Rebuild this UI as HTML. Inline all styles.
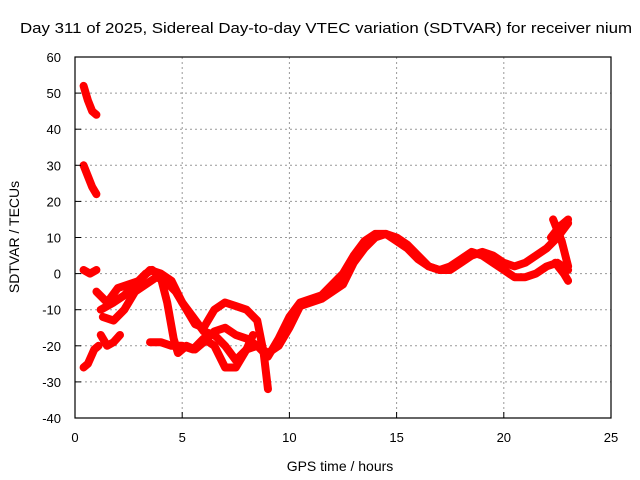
<!DOCTYPE html>
<html><head><meta charset="utf-8"><style>
body{margin:0;background:#fff}
svg{display:block;font-family:"Liberation Sans",sans-serif;font-size:13px}
</style></head><body>
<svg id="chart" width="640" height="480">
<text x="20" y="33" font-size="15" textLength="612" lengthAdjust="spacingAndGlyphs">Day 311 of 2025, Sidereal Day-to-day VTEC variation (SDTVAR) for receiver nium</text>
<text x="340" y="471" text-anchor="middle" font-size="14">GPS time / hours</text>
<text transform="translate(19,237) rotate(-90)" text-anchor="middle" font-size="14">SDTVAR / TECUs</text>
<g id="grid"></g>
<g id="marks"></g>
<rect x="75" y="57" width="536" height="361" fill="none" stroke="#000" stroke-width="1.2"/>
<g id="ticks"></g>
</svg>
<script>
const xTicks=[0,5,10,15,20,25];
const yTicks=[-40,-30,-20,-10,0,10,20,30,40,50,60];
const tA=[[0.4,52],[0.6,48],[0.8,45],[1.0,44]];
const tB=[[0.4,30],[0.6,27],[0.8,24],[1.0,22]];
const tC=[[0.4,1],[0.7,0],[1.0,1]];
const tD=[[0.4,-26],[0.6,-25],[0.9,-21],[1.1,-20]];
const tE=[[1.2,-17],[1.5,-20],[1.8,-19],[2.1,-17]];
const tF=[[1.0,-5],[1.5,-8],[2.0,-4],[2.5,-3],[3.0,-2],[3.5,1],[4.0,0],[4.5,-2],[5.0,-8],[5.5,-12],[6.0,-16],[6.5,-17],[7.0,-20],[7.5,-24],[8.0,-21],[8.5,-20],[9.0,-22],[9.5,-20],[10,-15],[10.5,-9],[11,-8],[11.5,-7],[12,-5],[12.5,-3],[13,3],[13.5,7],[14,10],[14.5,11],[15,9],[15.5,7],[16,4],[16.5,2],[17,1],[17.5,2],[18,4],[18.5,6],[19,5],[19.5,3],[20,1],[20.5,-1],[21,-1],[21.5,0],[22,2],[22.5,3],[23,1]];
const tG=[[1.2,-10],[1.8,-8],[2.3,-6],[2.8,-3],[3.3,0],[3.6,1],[4.0,-1],[4.3,-8],[4.6,-18],[4.8,-22],[5.2,-20],[5.6,-21],[6.0,-19],[6.5,-16],[7.0,-15],[7.5,-17],[8,-18],[8.5,-20],[9,-23],[9.5,-18],[10,-12],[10.5,-8],[11,-7],[11.5,-6],[12,-3],[12.5,0],[13,5],[13.5,9],[14,11],[14.5,11],[15,10],[15.5,8],[16,5],[16.5,2],[17,1],[17.5,1],[18,3],[18.5,5],[19,6],[19.5,5],[20,3],[20.5,2],[21,3],[21.5,5],[22,7],[22.5,10],[23,14]];
const tH=[[1.3,-12],[1.8,-13],[2.3,-10],[2.8,-5],[3.3,-3],[3.8,-1],[4.2,-2],[4.7,-5],[5.2,-10],[5.6,-14],[6.0,-15],[6.5,-10],[7.0,-8],[7.5,-9],[8.0,-10],[8.5,-13],[8.8,-22],[9.0,-32]];
const tI=[[3.5,-19],[4,-19],[4.5,-20],[5,-20],[5.5,-21],[6,-18],[6.5,-20],[7,-26],[7.5,-26],[8,-21],[8.3,-17]];
const tJ=[[22.3,15],[22.7,9],[23,2]];
const tK=[[22.4,3],[22.8,0],[23,-2]];
const tL=[[22.2,10],[22.6,13],[23,15]];
const series=[tA,tB,tC,tD,tE,tF,tG,tH,tI,tJ,tK,tL];
const X=h=>75+h*536/25, Y=v=>57+(60-v)*361/100;
const NS='http://www.w3.org/2000/svg';
const grid=document.getElementById('grid'),ticks=document.getElementById('ticks'),marks=document.getElementById('marks');
function mk(p,tag,a){const e=document.createElementNS(NS,tag);for(const k in a)e.setAttribute(k,a[k]);p.appendChild(e);return e;}
xTicks.forEach(t=>{
 if(t>0&&t<25){const g=mk(grid,'line',{x1:X(t),x2:X(t),y1:57,y2:418,stroke:'#999','stroke-dasharray':'2,3'});
 
 }
 mk(ticks,'line',{x1:X(t),x2:X(t),y1:418,y2:412,stroke:'#000'});
 const l=mk(ticks,'text',{x:X(t),y:442,'text-anchor':'middle'});l.textContent=t;
 
 
});
yTicks.forEach(t=>{
 if(t>-40&&t<60){const g=mk(grid,'line',{x1:75,x2:611,y1:Y(t),y2:Y(t),stroke:'#999','stroke-dasharray':'2,3'});
 
 }
 mk(ticks,'line',{x1:75,x2:81,y1:Y(t),y2:Y(t),stroke:'#000'});
 const l=mk(ticks,'text',{x:61,y:Y(t)+5,'text-anchor':'end'});l.textContent=t;
 
 
});
series.forEach(s=>{
 const p=mk(marks,'polyline',{points:s.map(d=>X(d[0])+','+Y(d[1])).join(' '),fill:'none',stroke:'#f00','stroke-width':8,'stroke-linejoin':'round','stroke-linecap':'round'});
 
 
});
</script>
</body></html>
